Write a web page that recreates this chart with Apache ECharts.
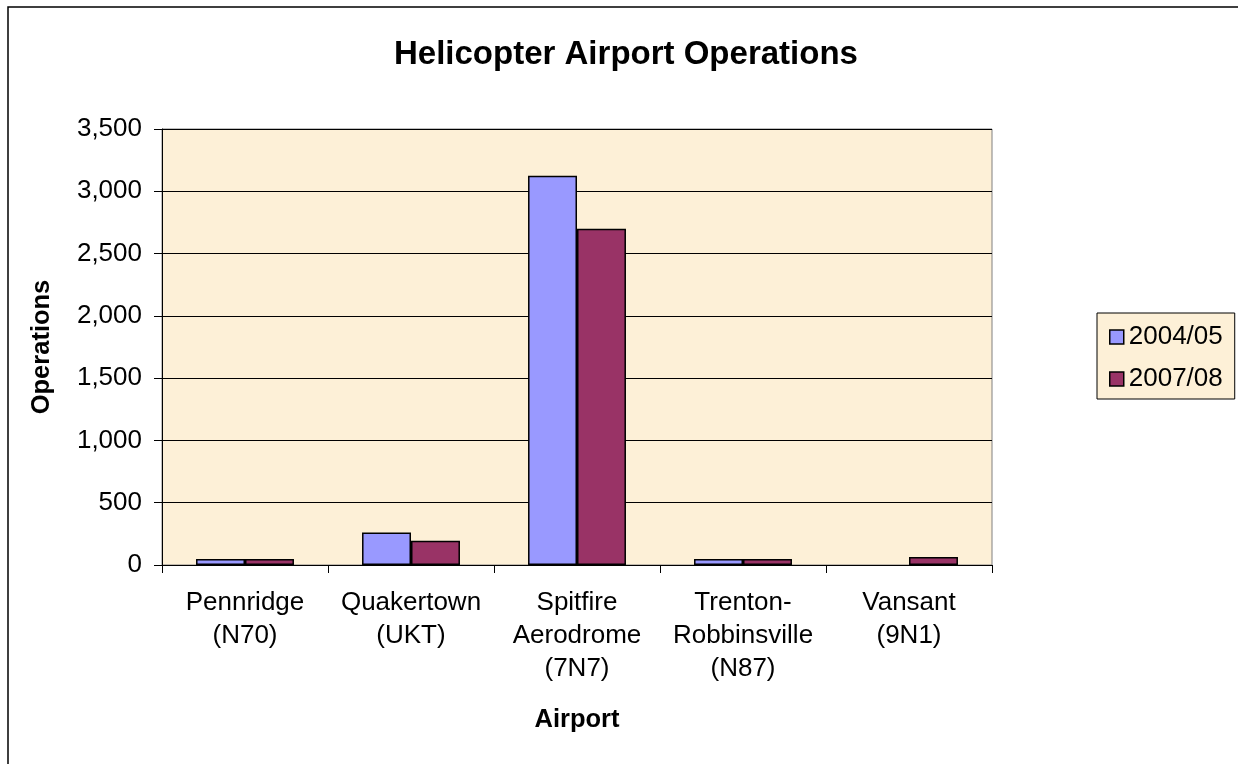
<!DOCTYPE html>
<html>
<head>
<meta charset="utf-8">
<title>Helicopter Airport Operations</title>
<script src="https://cdn.jsdelivr.net/npm/echarts@6/dist/echarts.min.js"></script>
<style>
  html, body { margin: 0; padding: 0; background: #fff; }
  #chart { width: 1238px; height: 764px; }
</style>
</head>
<body>
<div id="chart"></div>
<script>
"use strict";

// airports (x axis)
var airports = [
  "Pennridge\n(N70)",
  "Quakertown\n(UKT)",
  "Spitfire\nAerodrome\n(7N7)",
  "Trenton-\nRobbinsville\n(N87)",
  "Vansant\n(9N1)"
];
// operations per season (no 2004/05 bar for Vansant)
var ops0405 = [48, 260, 3125, 48, null];
var ops0708 = [48, 195, 2700, 48, 65];
var seasons = ["2004/05", "2007/08"];
var barColors = ["#9999FF", "#993366"];

var font = "'Liberation Sans', Arial, sans-serif";

(function () {
  var chart = echarts.init(document.getElementById("chart"));

  function fmt(v) {
    return String(v).replace(/\B(?=(\d{3})+(?!\d))/g, ",");
  }

  var option = {
    animation: false,
    backgroundColor: "#fff",
    textStyle: { fontFamily: font, color: "#000" },
    // frame round the chart
    graphic: [{
      type: "rect",
      z: -10,
      shape: { x: 8, y: 7, width: 1300, height: 800 },
      style: { fill: "#fff", stroke: "#000", lineWidth: 1.5 }
    }],
    title: {
      text: "Helicopter Airport Operations",
      left: 389,
      top: 33,
      padding: 5,
      textStyle: { fontFamily: font, fontSize: 33, fontWeight: "bold", color: "#000" }
    },
    legend: {
      data: seasons,
      orient: "vertical",
      left: 1097,
      top: 313,
      padding: [11, 12, 7, 12],
      itemGap: 16,
      itemWidth: 14,
      itemHeight: 14,
      icon: "rect",
      backgroundColor: "#FDF0D7",
      borderColor: "#000",
      borderWidth: 1,
      itemStyle: { borderColor: "#000", borderWidth: 1.5 },
      textStyle: { fontFamily: font, fontSize: 26, lineHeight: 25, color: "#000" }
    },
    grid: {
      left: 162,
      right: 246,
      top: 129,
      bottom: 199,
      show: true,
      backgroundColor: "#FDF0D7",
      borderColor: "#808080",
      borderWidth: 1
    },
    xAxis: {
      type: "category",
      data: airports,
      name: "Airport",
      nameLocation: "middle",
      nameGap: 142,
      nameTextStyle: { fontFamily: font, fontSize: 25.5, fontWeight: "bold", color: "#000" },
      axisLine: { lineStyle: { color: "#000", width: 1 } },
      axisTick: { show: true, length: 8, lineStyle: { color: "#000" } },
      axisLabel: {
        interval: 0,
        margin: 21,
        fontFamily: font,
        fontSize: 26,
        lineHeight: 33,
        color: "#000"
      }
    },
    yAxis: {
      type: "value",
      min: 0,
      max: 3500,
      interval: 500,
      name: "Operations",
      nameLocation: "middle",
      nameRotate: 90,
      nameGap: 107,
      nameTextStyle: { fontFamily: font, fontSize: 25.5, fontWeight: "bold", color: "#000" },
      axisLine: { show: true, lineStyle: { color: "#000", width: 1 } },
      axisTick: { show: true, length: 8, lineStyle: { color: "#000" } },
      splitLine: { show: true, lineStyle: { color: "#000", width: 1 } },
      axisLabel: {
        margin: 20,
        fontFamily: font,
        fontSize: 26,
        color: "#000",
        formatter: fmt
      }
    },
    series: [{
      name: seasons[0],
      type: "bar",
      data: ops0405,
      barGap: "0%",
      barCategoryGap: "41%",
      itemStyle: { color: barColors[0], borderColor: "#000", borderWidth: 1.5 }
    }, {
      name: seasons[1],
      type: "bar",
      data: ops0708,
      barGap: "0%",
      barCategoryGap: "41%",
      itemStyle: { color: barColors[1], borderColor: "#000", borderWidth: 1.5 }
    }]
  };

  chart.setOption(option);
})();
</script>
</body>
</html>
